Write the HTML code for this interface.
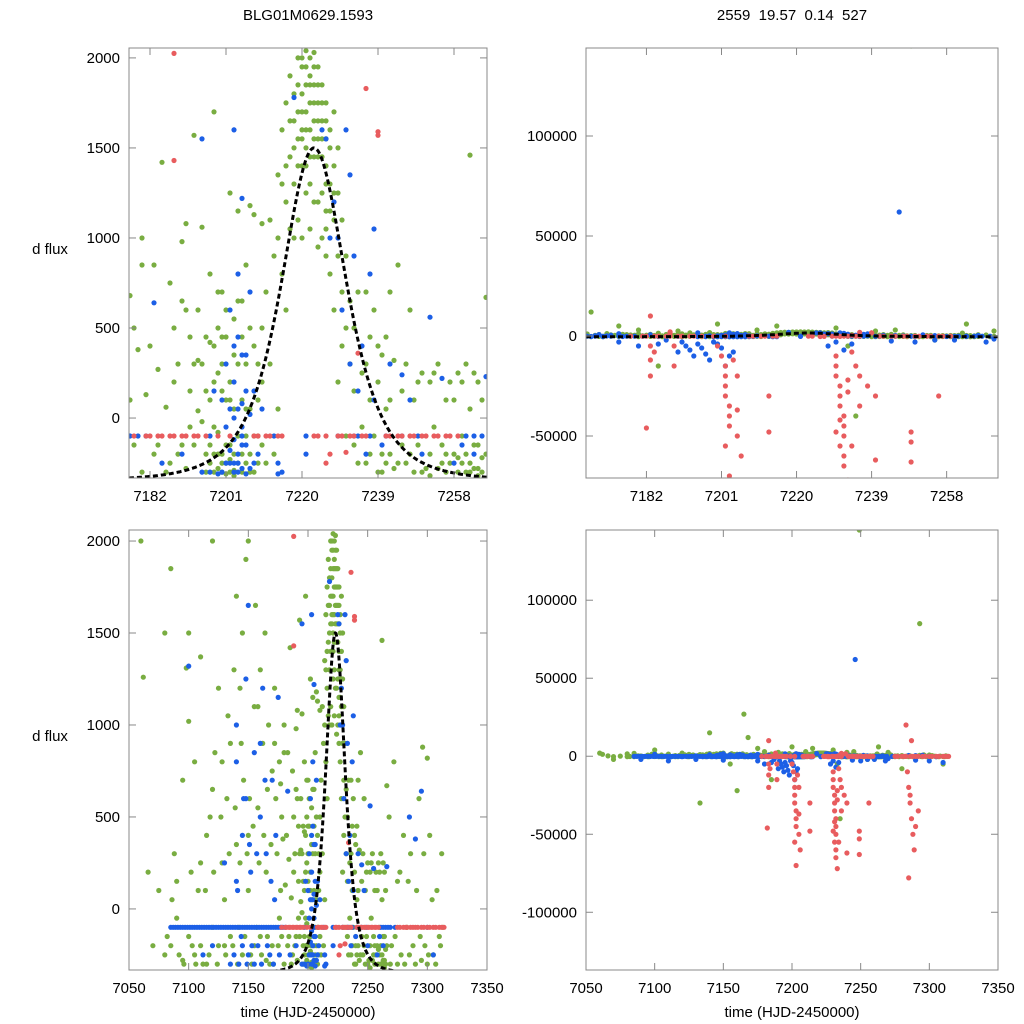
<!DOCTYPE html>
<html><head><meta charset="utf-8"><style>
body{margin:0;background:#fff}
svg{display:block;font-family:"Liberation Sans",Arial,sans-serif}
</style></head><body>
<svg id="chart" width="1024" height="1024" viewBox="0 0 1024 1024" xmlns="http://www.w3.org/2000/svg">
<rect width="1024" height="1024" fill="#fff"/>
<text x="308" y="20" font-size="15" text-anchor="middle">BLG01M0629.1593</text>
<text x="792" y="20" font-size="15" text-anchor="middle" xml:space="preserve" style="white-space:pre">2559  19.57  0.14  527</text>
<text x="50" y="254" font-size="15" text-anchor="middle">d flux</text>
<text x="50" y="741" font-size="15" text-anchor="middle">d flux</text>
<text x="308" y="1017" font-size="15" text-anchor="middle">time (HJD-2450000)</text>
<text x="792" y="1017" font-size="15" text-anchor="middle">time (HJD-2450000)</text>
</svg>
<script>
const greenData=[7214,1350,7215,1600,7216,1200,7216,1750,7217,1450,7217,1900,7218,1300,7218,1650,7219,1550,7219,2000,7220,1800,7220,1400,7220,1950,7221,1700,7221,1500,7221,2040,7222,1850,7222,1600,7222,1300,7223,1750,7223,1950,7223,1450,7224,1650,7224,1850,7224,1200,7225,1550,7225,1750,7225,1000,7226,1400,7226,1650,7226,900,7227,1300,7227,800,7228,1100,7228,600,7229,900,7229,1500,7230,700,7230,400,7231,500,7232,300,7233,150,7234,700,7235,-50,7236,300,7237,100,7237,-200,7213,900,7212,1100,7211,700,7210,500,7209,300,7214,1000,7215,800,7216,600,7218,1000,7219,1100,7220,1000,7222,1050,7224,950,7226,1150,7221,1250,7223,1200,7219,1700,7217,1050,
7220,1600,7220,1700,7221,1850,7221,1950,7222,1750,7222,1900,7222,2000,7223,1650,7223,1550,7223,1850,7224,1750,7224,1550,7224,1450,7225,1650,7225,1450,7225,1850,7226,1550,7226,1750,7226,1300,7227,1500,7227,1600,7227,1150,7228,1400,7228,1250,7221,1600,7221,1400,7220,1550,7219,1850,7219,1400,7218,1500,7218,1800,7217,1650,7216,1400,7215,1300,7223,2030,7224,1950,7222,1450,7225,1250,7226,1050,7228,1700,7229,1250,7230,1100,7231,900,7232,650,7229,200,7231,-100,7233,500,7235,250,7236,700,7234,-250,7233,-150,
7177,680,7178,-150,7179,380,7180,1000,7180,850,7181,130,7183,-200,7184,270,7185,1420,7186,60,7187,-250,7188,200,7189,300,7190,980,7190,650,7190,-150,7191,1080,7192,450,7192,-50,7193,1570,7194,320,7194,40,7195,1060,7196,-200,7197,800,7198,1700,7198,400,7199,-80,7199,250,7200,700,7200,-300,7201,100,7201,-250,7202,1250,7202,200,7203,-200,7203,550,7204,1150,7204,-100,7205,650,7205,-300,7206,850,7206,50,7207,1180,7207,-200,7208,1130,7208,400,7209,-250,7210,1080,7199,-280,7200,-200,7201,-310,7202,-230,7203,-290,7197,-250,7198,-300,7196,150,7195,-20,7197,420,7204,300,7206,-250,7200,450,7191,-280,
7194,600,7195,300,7196,450,7196,-300,7197,100,7197,-150,7198,-50,7198,200,7199,500,7199,-200,7200,150,7200,300,7200,-250,7201,-150,7201,450,7202,-300,7202,100,7202,-150,7203,50,7203,-320,7204,-250,7204,650,7205,100,7205,-200,7206,-100,7206,300,7207,50,7207,500,7208,-300,7208,-100,7209,100,7210,-150,7193,-150,7192,150,7191,600,7189,-200,7188,500,7186,-300,7184,-150,7182,400,7180,-300,7178,500,7183,850,7187,750,7193,300,7198,-200,7199,700,7201,600,7203,350,7205,450,7207,-300,7209,-100,7210,200,7211,-250,7212,300,7213,-200,7214,50,
7238,600,7239,-300,7240,350,7241,50,7242,-200,7243,320,7244,850,7245,150,7246,-250,7247,600,7248,100,7249,-150,7250,250,7251,-280,7252,200,7253,-50,7254,300,7255,-150,7256,100,7257,-250,7258,-200,7259,250,7260,-100,7261,300,7262,1460,7262,-250,7263,-150,7264,200,7265,-300,7266,670,7236,-250,7237,450,7240,-200,7255,-250,7259,-300,7261,-200,7264,-280,7248,-300,
7238,-100,7239,200,7240,-300,7241,450,7242,100,7243,-280,7245,-150,7246,300,7247,-200,7249,200,7250,-300,7252,-200,7253,250,7254,-280,7256,-200,7257,200,7258,100,7259,-220,7260,200,7261,-300,7262,50,7263,250,7264,-150,7265,100,7266,-200,7260,-250,7262,-300,7263,-280,7264,-320,7265,-220,7256,-300,7252,-320,7244,-250,7241,-250,7239,400,7242,700,
7062,1260,7066,200,7070,-200,7075,100,7080,-250,7085,1850,7088,300,7090,-50,7095,700,7098,1310,7100,1500,7100,1020,7103,-200,7105,800,7108,100,7110,1370,7112,-300,7115,400,7118,500,7120,-100,7122,850,7125,1200,7128,250,7130,-200,7132,600,7135,900,7138,1300,7140,1700,7140,350,7142,-100,7145,1500,7146,700,7148,1900,7150,2000,7150,400,7152,-250,7155,1100,7156,1650,7158,550,7160,1300,7160,-150,7162,900,7164,1500,7165,200,7167,1000,7168,-300,7170,750,7172,1200,7174,300,7176,-50,7085,-200,7095,-280,7105,-250,7115,-300,7125,-200,7135,-150,7145,-250,7155,-200,7165,-280,7090,150,7110,250,7130,50,7150,100,7170,-200,
7082,-150,7086,50,7092,-250,7096,-300,7100,-150,7102,200,7106,-300,7110,-200,7114,100,7117,-250,7121,200,7124,-300,7127,500,7131,-250,7134,300,7137,-200,7139,550,7141,-300,7143,250,7144,900,7147,-150,7149,300,7151,600,7153,-300,7154,450,7157,-100,7159,250,7161,-250,7163,400,7166,-150,7169,350,7171,-300,7173,600,7175,-200,7177,100,7133,1050,7128,800,7120,650,7143,1200,7158,1100,7166,650,7172,900,7176,800,
7268,500,7270,-200,7272,800,7275,150,7278,-250,7280,400,7283,-100,7286,300,7290,-300,7293,600,7296,880,7298,-200,7300,820,7302,400,7305,-250,7308,100,7310,-150,7312,300,7275,-300,7285,-250,7295,-280,7300,-300,7269,-300,7273,-150,7277,200,7281,-300,7284,150,7288,-200,7291,100,7294,-150,7297,300,7301,-250,7304,50,7307,-300,7311,-200,7313,-100,
7249,145000,7293,85000,7165,27000,7160,-22000,7133,-30000,7155,-5000,7175,5000,7168,12000,7185,-15000,7263,6000,7140,15000,7100,4000,7215,5000,7245,3000,7060,2000,7070,-2000,7200,6000,7230,4000,7280,-8000,7310,-5000,7235,-40000,7233,-5000,7180,3000,7190,2500,7210,3000,7220,2000,7240,2500,7255,-2000,7270,2500,7120,2000,7150,-1500,7080,1500];
const blueData=[7085,-100,7089,-100,7093,-100,7097,-100,7101,-100,7105,-100,7109,-100,7113,-100,7117,-100,7121,-100,7125,-100,7129,-100,7133,-100,7137,-100,7141,-100,7145,-100,7149,-100,7153,-100,7157,-100,7161,-100,7165,-100,7169,-100,7173,-100,7177,-100,7181,-100,7197,-100,7205,-100,7213,-100,7221,-100,7229,-100,7237,-100,7245,-100,7249,-100,7261,-100,7265,-100,7269,-100,7273,-100,
7087,-100,7091,-100,7095,-100,7099,-100,7103,-100,7107,-100,7111,-100,7115,-100,7119,-100,7123,-100,7127,-100,7131,-100,7135,-100,7139,-100,7143,-100,7147,-100,7151,-100,7155,-100,7159,-100,7163,-100,7167,-100,7171,-100,7175,-100,7179,-100,7233,-100,7241,-100,7263,-100,7267,-100,
7200,100,7201,-50,7201,300,7202,600,7202,-250,7203,0,7203,200,7204,450,7204,-300,7205,80,7205,1220,7206,350,7206,-150,7207,700,7207,20,7208,150,7203,1600,7209,-200,7210,50,7183,640,7185,-250,7190,-200,7195,-300,7204,-200,7205,-280,7206,-310,7203,-250,
7202,-180,7203,-120,7204,50,7205,-50,7204,-250,7205,350,7203,400,7202,50,7206,150,7204,800,7203,-300,7205,-150,
7228,1200,7229,1000,7230,600,7231,1600,7232,1350,7232,300,7233,900,7234,150,7235,400,7236,-200,7237,800,7238,100,7238,1050,7240,-150,7242,300,7234,-100,7226,1550,7218,1780,7221,-200,7215,-300,7245,240,7250,-200,7252,560,7255,220,7258,-250,7260,-150,7263,-200,7266,230,7247,100,7225,1600,7227,1000,7214,-250,7214,-310,
7100,1320,7120,-200,7130,250,7140,800,7142,-300,7145,400,7148,600,7150,1650,7152,200,7155,850,7158,-200,7160,500,7162,1200,7165,300,7168,-250,7170,700,7172,50,7175,1150,7195,1550,7285,500,7290,380,7295,640,7300,-100,7305,-250,7112,-250,7135,-300,7155,-300,7145,-200,7150,-250,7140,150,
7138,-250,7141,100,7144,-150,7146,600,7149,-300,7151,350,7153,-200,7157,300,7161,-300,7164,700,7166,-200,7169,150,7171,-300,7173,400,7176,-250,7140,1000,7148,1250,7160,900,7200,-300,7201,-250,7199,-310,7198,150,7197,-300,7207,-280,7208,-250,
7246,62000,7190,-8000,7192,-5000,7194,-10000,7196,-6000,7198,-12000,7200,-4000,7202,-15000,7204,-8000,7232,-7000,7234,-4000,7175,-3000,7180,-5000,7260,-2000,7270,-1500,7110,-3000,7150,-2500,7250,-3000,7300,-3000,7310,-4000,7191,-3000,7193,-7000,7195,-4000,7197,-9000,7199,-3000,7201,-6000,7203,-10000,7187,-2000,7185,-4000,7230,-3000,7228,-5000,7244,-2500,7255,-2000,7268,-3000,7290,-2500,7090,-2000,7130,-2000];
const redData=[7178,-100,7181,-100,7184,-100,7187,-100,7190,-100,7193,-100,7196,-100,7199,-100,7202,-100,7208,-100,7211,-100,7214,-100,7223,-100,7226,-100,7229,-100,7232,-100,7235,-100,7241,-100,7244,-100,7247,-100,7250,-100,7253,-100,7256,-100,7259,-100,7275,-100,7280,-100,7283,-100,7286,-100,7290,-100,7295,-100,7300,-100,7305,-100,7310,-100,7314,-100,
7182,-100,7185,-100,7188,-100,7191,-100,7194,-100,7209,-100,7212,-100,7215,-100,7224,-100,7230,-100,7233,-100,7236,-100,7242,-100,7245,-100,7248,-100,7251,-100,7254,-100,7257,-100,7277,-100,7282,-100,7288,-100,7292,-100,7297,-100,7302,-100,7307,-100,7312,-100,
7188,2025,7188,1430,7239,1590,7239,1570,7236,1830,7234,360,7226,-250,7227,-200,7231,-190,
7183,-12000,7183,-20000,7182,-46000,7183,10000,7189,-5000,7189,-15000,7200,-5000,7201,-10000,7202,-20000,7202,-25000,7202,-30000,7203,-35000,7203,-40000,7202,-55000,7203,-70000,7205,-37000,7205,-20000,7213,-48000,7213,-30000,7230,-10000,7230,-20000,7231,-25000,7231,-30000,7232,-40000,7232,-45000,7232,-50000,7231,-55000,7232,-60000,7232,-65000,7234,-8000,7235,-15000,7236,-35000,7240,-62000,7240,-30000,7249,-53000,7249,-63000,7249,-48000,7256,-30000,
7231,-35000,7231,-42000,7230,-48000,7233,-22000,7233,-28000,7230,-15000,7236,-20000,7238,-25000,7202,-15000,7203,-45000,7204,-12000,7183,-5000,7184,-8000,
7285,-20000,7286,-30000,7287,-40000,7288,-50000,7289,-60000,7285,-78000,7288,-140000,7283,20000,7287,10000,7292,-35000,7205,-50000,7206,-60000,7233,-72000,7234,-55000,7286,-25000,7290,-45000,7284,-10000];
const leftTicksTopX=[7182,7201,7220,7239,7258];
const leftTicksBotX=[7050,7100,7150,7200,7250,7300,7350];
const leftTicksY=[0,500,1000,1500,2000];
const rightTicksTopY=[-50000,0,50000,100000];
const rightTicksBotY=[-100000,-50000,0,50000,100000];
const modelT0=[7223], modelAmp=[1850], modelBase=[-350], modelW=[15];

const NS='http://www.w3.org/2000/svg';
const svg=document.getElementById('chart');
function mk(tag,attrs,parent){const e=document.createElementNS(NS,tag);for(const k in attrs)e.setAttribute(k,attrs[k]);(parent||svg).appendChild(e);return e;}
let clipN=0;
function panel(name,px0,px1,py0,py1,xmin,xmax,ymin,ymax,xt,yt,model){
  const sx=t=>px0+(t-xmin)/(xmax-xmin)*(px1-px0);
  const sy=v=>py1-(v-ymin)/(ymax-ymin)*(py1-py0);
  const g=mk('g',{});
  
  
  const id='c'+(clipN++);
  const cp=mk('clipPath',{id:id},g);mk('rect',{x:px0,y:py0,width:px1-px0,height:py1-py0},cp);
  const plot=mk('g',{'clip-path':'url(#'+id+')'},g);
  
  
  const series=[[greenData,'#79ad41','green-points'],[blueData,'#1c5fe6','blue-points'],[redData,'#e85c5e','red-points']];
  series.forEach(([d,c,n])=>{const sg=mk('g',{fill:c},plot);
    
    
    for(let i=0;i<d.length;i+=2){const y=sy(d[i+1]);if(y<py0-5||y>py1+5)continue;
      const p=mk('circle',{cx:sx(d[i]).toFixed(1),cy:y.toFixed(1),r:2.6},sg);
      
      }
  });
  if(model){let pts=[];for(let t=xmin;t<=xmax;t+=0.25){const u=(t-modelT0[0])/modelW[0];const f=modelBase[0]+modelAmp[0]/Math.pow(1+u*u,2);pts.push(sx(t).toFixed(1)+','+sy(f).toFixed(1));}
    const pl=mk('polyline',{points:pts.join(' '),fill:'none',stroke:'#000','stroke-width':3,'stroke-dasharray':'5,3'},plot);
    
    }
  const fr=mk('rect',{x:px0,y:py0,width:px1-px0,height:py1-py0,fill:'none',stroke:'#888','stroke-width':1},g);
  
  
  xt.forEach(t=>{const x=sx(t);mk('line',{x1:x,x2:x,y1:py1,y2:py1-7,stroke:'#888'},g);mk('line',{x1:x,x2:x,y1:py0,y2:py0+7,stroke:'#888'},g);
    const tx=mk('text',{x:x,y:py1+23,'font-size':15,'text-anchor':'middle'},g);tx.textContent=t;
    
    });
  yt.forEach(v=>{const y=sy(v);mk('line',{x1:px0,x2:px0+7,y1:y,y2:y,stroke:'#888'},g);mk('line',{x1:px1,x2:px1-7,y1:y,y2:y,stroke:'#888'},g);
    const tx=mk('text',{x:px0-9,y:y+5,'font-size':15,'text-anchor':'end'},g);tx.textContent=v;
    
    });
}
panel('panel-top-left',129,487,48,478,7176.75,7266.25,-333,2055,leftTicksTopX,leftTicksY,true);
panel('panel-top-right',586,998,48,478,7166.7,7271,-71000,144000,leftTicksTopX,rightTicksTopY,true);
panel('panel-bottom-left',129,487,530,970,7050,7350,-332,2060,leftTicksBotX,leftTicksY,true);
panel('panel-bottom-right',586,998,530,970,7050,7350,-137000,145000,leftTicksBotX,rightTicksBotY,false);
</script>
</body></html>
